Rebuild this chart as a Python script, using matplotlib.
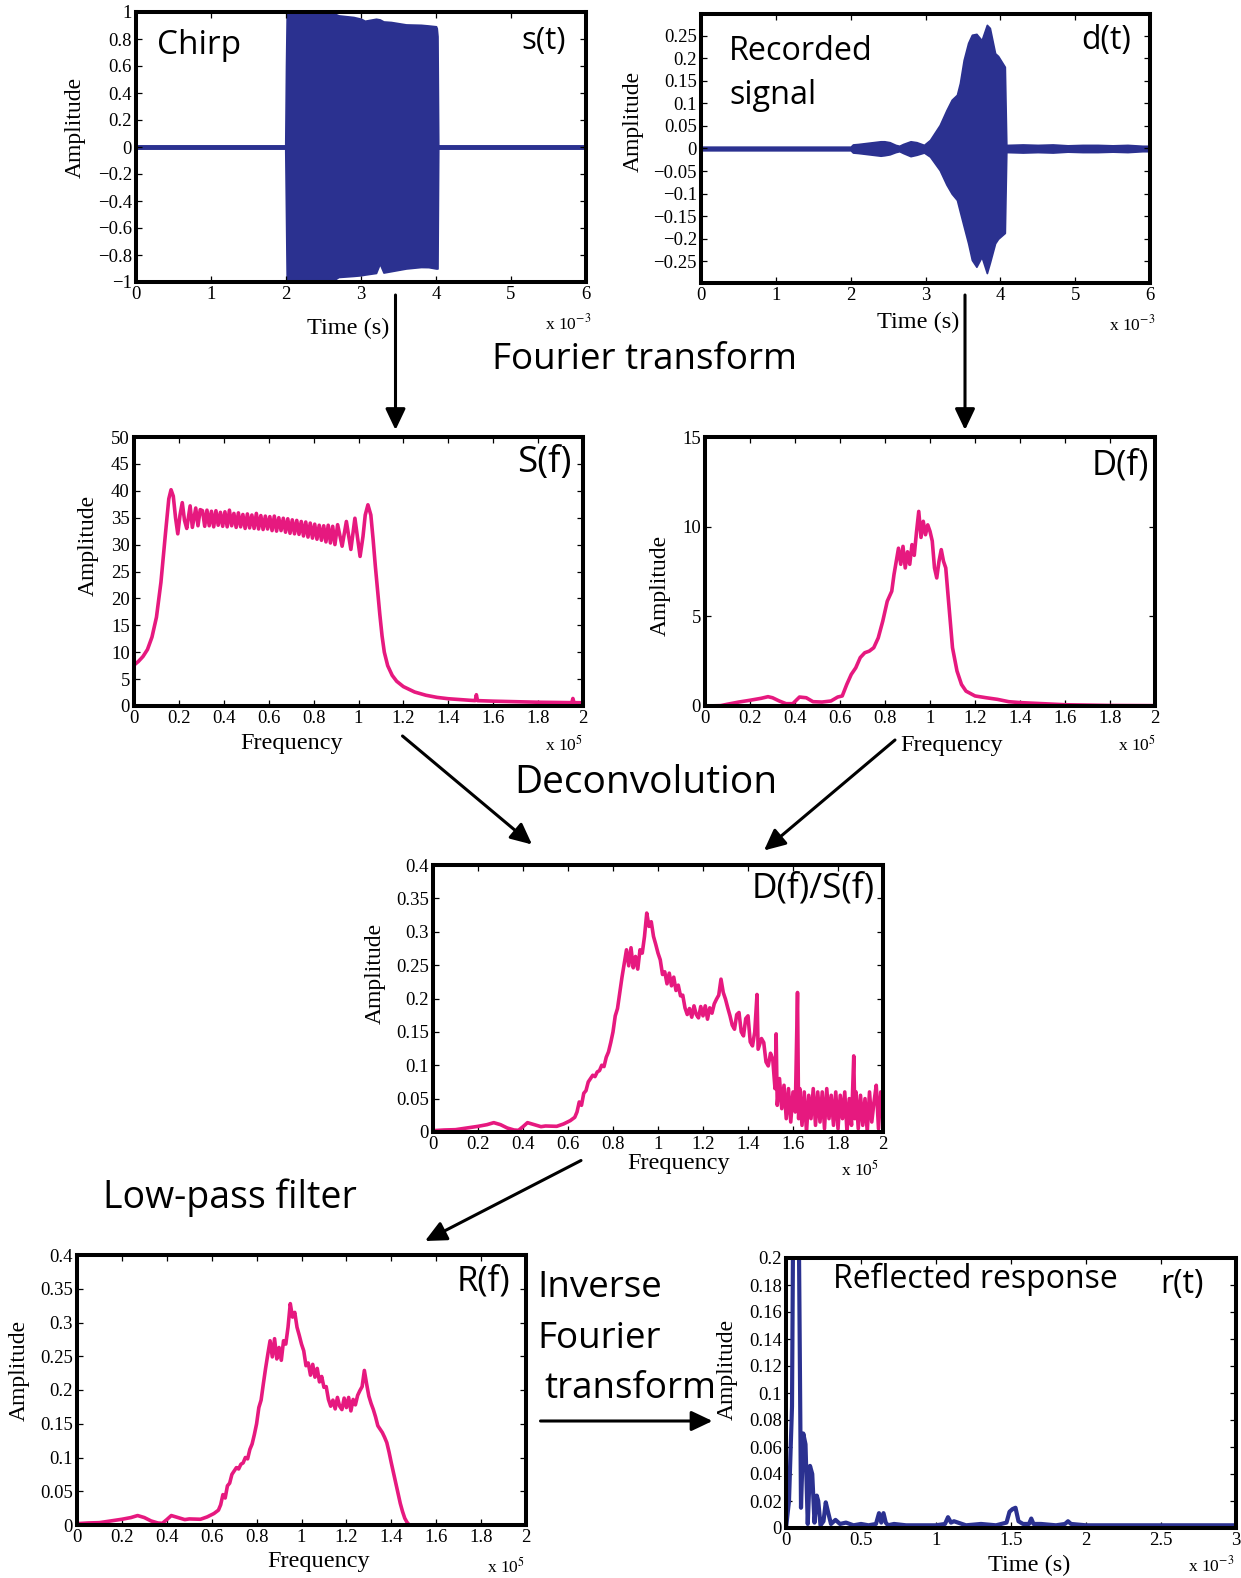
import numpy as np
import matplotlib
matplotlib.use('Agg')
import matplotlib.pyplot as plt
from matplotlib.patches import FancyArrowPatch
from matplotlib.ticker import FuncFormatter, MultipleLocator

W, H, DPI = 1241, 1578, 100

plt.rcParams['font.family'] = ['Liberation Serif', 'DejaVu Serif']
plt.rcParams['mathtext.fontset'] = 'stix'
plt.rcParams['axes.unicode_minus'] = True

NAVY = '#2b3190'
PINK = '#e6197f'
SANS = ['Open Sans', 'DejaVu Sans']

# ---------------- data ----------------
# chirp s(t): envelope of the transmitted sweep (time in ms)
st_time  = [0.0, 1.99, 2.0, 2.01, 2.6, 2.7, 2.9, 3.0, 3.05, 3.2, 3.25, 3.3, 3.4, 3.6, 3.8, 3.9, 4.0, 4.01, 4.02, 4.03, 6.0]
st_upper = [0.012, 0.012, 0.6, 1.0, 1.0, 0.975, 0.963, 0.95, 0.935, 0.95, 0.945, 0.93, 0.926, 0.908, 0.905, 0.9, 0.894, 0.88, 0.82, 0.012, 0.012]
st_lower = [-0.012, -0.012, -0.5, -1.0, -1.0, -0.963, -0.955, -0.95, -0.945, -0.933, -0.864, -0.93, -0.92, -0.9, -0.889, -0.89, -0.9, -0.9, -0.9, -0.012, -0.012]

# recorded d(t): envelope of the received signal (time in ms)
dt_time  = [0.0, 2.0, 2.03, 2.1, 2.2, 2.3, 2.4, 2.45, 2.52, 2.6,
            2.65, 2.7, 2.8, 2.88, 2.98, 3.06, 3.19, 3.28, 3.35, 3.42,
            3.46, 3.51, 3.57, 3.62, 3.68, 3.75, 3.82, 3.86, 3.93, 3.97,
            4.06, 4.08, 4.1, 4.3, 4.5, 4.7, 4.9, 5.1, 5.3, 5.5,
            5.7, 5.9, 6.0]
dt_upper = [0.004, 0.004, 0.009, 0.01, 0.012, 0.014, 0.016, 0.016, 0.014, 0.008,
            0.006, 0.01, 0.016, 0.014, 0.008, 0.019, 0.052, 0.085, 0.108, 0.119,
            0.145, 0.196, 0.234, 0.252, 0.254, 0.24, 0.274, 0.267, 0.211, 0.205,
            0.181, 0.008, 0.008, 0.009, 0.008, 0.009, 0.007, 0.008, 0.008, 0.007,
            0.008, 0.006, 0.006]
dt_lower = [-0.004, -0.004, -0.009, -0.01, -0.012, -0.014, -0.016, -0.015, -0.013, -0.008,
            -0.006, -0.01, -0.017, -0.014, -0.009, -0.018, -0.048, -0.08, -0.1, -0.114,
            -0.14, -0.172, -0.21, -0.247, -0.262, -0.24, -0.276, -0.253, -0.21, -0.2,
            -0.187, -0.008, -0.008, -0.009, -0.008, -0.009, -0.007, -0.008, -0.008, -0.007,
            -0.008, -0.006, -0.006]

# S(f): chirp spectrum (frequency in units of 1e5 Hz)
sf_head = [(0.00, 7.6), (0.02, 8.3), (0.04, 9.2), (0.06, 10.5), (0.08, 12.8), (0.10, 16.5), (0.12, 23.0),
           (0.14, 32.0), (0.155, 38.5), (0.165, 40.2), (0.175, 39.0), (0.185, 35.0), (0.195, 32.0),
           (0.205, 35.5), (0.215, 37.8), (0.225, 34.5), (0.235, 33.0), (0.25, 37.2), (0.26, 33.2),
           (0.275, 36.8), (0.285, 33.5), (0.295, 36.5)]
sf_band_freq = [0.305, 0.315, 0.325, 0.335, 0.345, 0.355, 0.365, 0.375, 0.385, 0.395,
                0.405, 0.415, 0.425, 0.435, 0.445, 0.455, 0.465, 0.475, 0.485, 0.495,
                0.505, 0.515, 0.525, 0.535, 0.545, 0.555, 0.565, 0.575, 0.585, 0.595,
                0.605, 0.615, 0.625, 0.635, 0.645, 0.655, 0.665, 0.675, 0.685, 0.695,
                0.705, 0.715, 0.725, 0.735, 0.745, 0.755, 0.765, 0.775, 0.785, 0.795,
                0.805, 0.815, 0.825, 0.835, 0.845, 0.855, 0.865, 0.875, 0.885, 0.895]
sf_band_amp = [36.3, 33.4, 36.4, 33.5, 36.2, 33.3, 36.3, 33.6, 36.0, 33.4,
               36.1, 33.3, 36.4, 33.5, 35.8, 33.2, 35.9, 33.3, 35.6, 33.0,
               35.7, 33.1, 35.5, 33.0, 35.8, 32.9, 35.4, 32.8, 35.3, 32.9,
               35.2, 32.6, 35.3, 32.5, 35.0, 32.6, 34.9, 32.3, 34.8, 32.1,
               34.6, 32.0, 34.5, 31.9, 34.3, 31.6, 34.2, 31.4, 34.0, 31.2,
               33.8, 31.0, 33.6, 30.8, 33.5, 30.5, 33.6, 30.3, 33.4, 30.0]
sf_tail = [(0.907, 33.7), (0.927, 29.7), (0.946, 34.3), (0.966, 29.1), (0.984, 34.9), (1.007, 27.8),
           (1.02, 31.5), (1.03, 35.5), (1.042, 37.4), (1.055, 35.5), (1.065, 31.0), (1.075, 26.0),
           (1.085, 21.5), (1.095, 17.0), (1.105, 13.0), (1.115, 10.0), (1.13, 7.5), (1.15, 5.7),
           (1.17, 4.6), (1.2, 3.6), (1.25, 2.6), (1.3, 2.0), (1.35, 1.6), (1.4, 1.35), (1.45, 1.2),
           (1.5, 1.05), (1.52, 1.0), (1.525, 2.1), (1.53, 1.0), (1.6, 0.9), (1.7, 0.8), (1.8, 0.7),
           (1.9, 0.65), (1.95, 0.62), (1.955, 1.4), (1.96, 0.62), (2.0, 0.6)]

# D(f): recorded-signal spectrum
df_freq = [0.0, 0.07, 0.10, 0.15, 0.20, 0.25, 0.28, 0.30, 0.33, 0.36, 0.39, 0.42, 0.45, 0.48, 0.52, 0.56,
           0.59, 0.61, 0.63, 0.65, 0.67, 0.69, 0.71, 0.73, 0.75, 0.77, 0.79, 0.81, 0.83, 0.84, 0.86, 0.87,
           0.88, 0.89, 0.90, 0.91, 0.92, 0.93, 0.94, 0.95, 0.96, 0.97, 0.98, 0.99, 1.00, 1.01, 1.02, 1.03,
           1.04, 1.05, 1.06, 1.07, 1.08, 1.09, 1.10, 1.12, 1.14, 1.16, 1.20, 1.25, 1.30, 1.35, 1.40, 1.50,
           1.60, 1.80, 2.00]
df_amp = [0.0, 0.02, 0.1, 0.22, 0.32, 0.43, 0.52, 0.46, 0.28, 0.13, 0.13, 0.5, 0.46, 0.24, 0.22, 0.28,
          0.5, 0.56, 1.2, 1.76, 2.13, 2.7, 2.97, 3.06, 3.25, 3.8, 4.73, 5.84, 6.4, 7.33, 8.8, 7.9,
          8.9, 7.7, 8.6, 7.9, 9.0, 8.4, 9.7, 10.85, 9.4, 10.3, 9.55, 10.1, 9.74, 9.2, 7.7, 7.14,
          8.07, 8.72, 8.07, 7.7, 6.2, 4.73, 3.25, 1.95, 1.2, 0.83, 0.56, 0.46, 0.37, 0.24, 0.19, 0.13,
          0.07, 0.03, 0.02]

# D(f)/S(f): deconvolved spectrum
ds_points = [(0.00, 0.002), (0.05, 0.003), (0.10, 0.0035), (0.15, 0.006), (0.20, 0.0085), (0.24, 0.011),
             (0.27, 0.014), (0.30, 0.011), (0.33, 0.006), (0.36, 0.003), (0.38, 0.0025), (0.40, 0.008),
             (0.42, 0.014), (0.45, 0.011), (0.48, 0.008), (0.50, 0.009), (0.55, 0.0085), (0.58, 0.012),
             (0.61, 0.017), (0.63, 0.022), (0.64, 0.030), (0.65, 0.045), (0.66, 0.040), (0.67, 0.058),
             (0.68, 0.062), (0.69, 0.075), (0.70, 0.080), (0.71, 0.085), (0.72, 0.083), (0.73, 0.090),
             (0.74, 0.092), (0.75, 0.100), (0.76, 0.098), (0.77, 0.112), (0.78, 0.120), (0.79, 0.134),
             (0.80, 0.150), (0.81, 0.174), (0.82, 0.185), (0.83, 0.209), (0.84, 0.232), (0.85, 0.253),
             (0.86, 0.273), (0.87, 0.249), (0.88, 0.276), (0.89, 0.246), (0.90, 0.263),
             (0.91, 0.244), (0.92, 0.273), (0.93, 0.268), (0.94, 0.293), (0.95, 0.328), (0.96, 0.308),
             (0.97, 0.315), (0.98, 0.293), (0.99, 0.281), (1.00, 0.268), (1.01, 0.258), (1.02, 0.236),
             (1.03, 0.240), (1.04, 0.222), (1.05, 0.238), (1.06, 0.219), (1.07, 0.232), (1.08, 0.212),
             (1.09, 0.220), (1.10, 0.204), (1.11, 0.205), (1.12, 0.186), (1.13, 0.176), (1.14, 0.185),
             (1.15, 0.172), (1.16, 0.189), (1.17, 0.176), (1.18, 0.171), (1.19, 0.188), (1.20, 0.174),
             (1.21, 0.189), (1.22, 0.169), (1.23, 0.186), (1.24, 0.178), (1.25, 0.192), (1.26, 0.199),
             (1.27, 0.205), (1.28, 0.229), (1.29, 0.209), (1.30, 0.199), (1.31, 0.186), (1.32, 0.174),
             (1.33, 0.160), (1.34, 0.154), (1.35, 0.176), (1.36, 0.179), (1.37, 0.150), (1.38, 0.144),
             (1.39, 0.170), (1.40, 0.174), (1.41, 0.135), (1.42, 0.129), (1.43, 0.150), (1.44, 0.206),
             (1.445, 0.124), (1.46, 0.140), (1.47, 0.134), (1.48, 0.105), (1.49, 0.099), (1.50, 0.118),
             (1.51, 0.109), (1.52, 0.065), (1.525, 0.147), (1.53, 0.040), (1.54, 0.080), (1.55, 0.035),
             (1.56, 0.07), (1.57, 0.02), (1.58, 0.065), (1.59, 0.015), (1.60, 0.06), (1.61, 0.03),
             (1.62, 0.209), (1.625, 0.02), (1.63, 0.065), (1.64, 0.01), (1.65, 0.06), (1.66, 0.0),
             (1.67, 0.055), (1.68, 0.02), (1.69, 0.065), (1.70, 0.01), (1.71, 0.06), (1.72, 0.015),
             (1.73, 0.06), (1.74, 0.005), (1.75, 0.065), (1.76, 0.02), (1.77, 0.055), (1.78, 0.01),
             (1.79, 0.06), (1.80, 0.005), (1.81, 0.055), (1.82, 0.02), (1.83, 0.06), (1.84, 0.0),
             (1.85, 0.05), (1.86, 0.01), (1.87, 0.114), (1.875, 0.02), (1.88, 0.06), (1.89, 0.005),
             (1.90, 0.055), (1.91, 0.01), (1.92, 0.05), (1.93, 0.0), (1.94, 0.06), (1.95, 0.015),
             (1.96, 0.045), (1.97, 0.07), (1.98, 0.005), (1.99, 0.06), (2.00, 0.03)]

# R(f): low-pass filtered spectrum, roll-off above the cutoff
rf_cutoff = 1.295
rf_tail = [(1.30, 0.191), (1.31, 0.18), (1.32, 0.171), (1.33, 0.16), (1.34, 0.147), (1.35, 0.142),
           (1.36, 0.137), (1.37, 0.13), (1.38, 0.122), (1.39, 0.108), (1.40, 0.092), (1.41, 0.077),
           (1.42, 0.062), (1.43, 0.047), (1.44, 0.032), (1.45, 0.02), (1.46, 0.01), (1.47, 0.004),
           (1.48, 0.0), (2.0, 0.0)]

# r(t): reflected response (time in ms)
rt_time = [0.0, 0.02, 0.04, 0.06, 0.08, 0.10, 0.115, 0.13, 0.145, 0.16, 0.175, 0.19, 0.205, 0.215, 0.23,
           0.25, 0.265, 0.28, 0.30, 0.33, 0.36, 0.40, 0.45, 0.50, 0.55, 0.60, 0.62, 0.635, 0.65, 0.665,
           0.68, 0.72, 0.8, 0.9, 1.0, 1.06, 1.08, 1.10, 1.12, 1.2, 1.3, 1.4, 1.47, 1.49, 1.51, 1.53,
           1.55, 1.58, 1.62, 1.635, 1.65, 1.7, 1.8, 1.86, 1.88, 1.9, 2.0, 2.2, 2.4, 2.6, 2.8, 3.0]
rt_amp = [0.0, 0.02, 0.09, 0.45, 0.30, 0.015, 0.07, 0.062, 0.003, 0.046, 0.04, 0.004, 0.024, 0.02, 0.002,
          0.005, 0.019, 0.012, 0.003, 0.006, 0.003, 0.004, 0.002, 0.003, 0.002, 0.003, 0.011, 0.004, 0.011, 0.004,
          0.002, 0.003, 0.002, 0.002, 0.002, 0.003, 0.008, 0.004, 0.005, 0.002, 0.003, 0.002, 0.004, 0.012, 0.014, 0.015,
          0.005, 0.003, 0.003, 0.007, 0.003, 0.003, 0.002, 0.003, 0.005, 0.003, 0.002, 0.002, 0.002, 0.002, 0.002, 0.002]

# ---------------- assemble series ----------------
sf_pts = sf_head + list(zip(sf_band_freq, sf_band_amp)) + sf_tail
sf_freq, sf_amp = map(np.array, zip(*sf_pts))
ds_freq, ds_amp = map(np.array, zip(*ds_points))
rf_pts = [p for p in ds_points if p[0] < rf_cutoff] + rf_tail
rf_freq, rf_amp = map(np.array, zip(*rf_pts))

# ---------------- figure ----------------
fig = plt.figure(figsize=(W / DPI, H / DPI), dpi=DPI)
fig.patch.set_facecolor('white')


def tick_fmt(v, _):
    if abs(v) < 1e-9:
        return '0'
    return ('%g' % round(v, 6)).replace('-', '\u2212')


def make_axes(box, xlim, ylim, xstep, ystep):
    L, R, T, B = box
    ax = fig.add_axes([L / W, 1 - B / H, (R - L) / W, (B - T) / H])
    for sp in ax.spines.values():
        sp.set_linewidth(2.9)
    ax.tick_params(direction='in', length=4, width=0.9, top=True, right=True,
                   labelsize=13.5, pad=3)
    ax.set_xlim(*xlim)
    ax.set_ylim(*ylim)
    ax.xaxis.set_major_locator(MultipleLocator(xstep))
    ax.yaxis.set_major_locator(MultipleLocator(ystep))
    ax.xaxis.set_major_formatter(FuncFormatter(tick_fmt))
    ax.yaxis.set_major_formatter(FuncFormatter(tick_fmt))
    return ax


def labels(ax, box, xl, xpos, yl, ypos, mult, mpos):
    L, R, T, B = box
    ax.set_xlabel(xl, fontsize=17.5)
    ax.xaxis.set_label_coords((xpos[0] - L) / (R - L), (B - xpos[1]) / (B - T))
    ax.xaxis.label.set_va('center')
    ax.set_ylabel(yl, fontsize=17)
    ax.yaxis.set_label_coords((ypos[0] - L) / (R - L), (B - ypos[1]) / (B - T))
    ax.yaxis.label.set_va('center')
    fig.text(mpos[0] / W, 1 - mpos[1] / H, mult, fontsize=12.5, ha='center', va='center')


def ftext(x, y, s, size, ha='left'):
    fig.text(x / W, 1 - y / H, s, fontsize=size, ha=ha, va='center', family=SANS)


def arrow(p0, p1):
    a = FancyArrowPatch((p0[0] / W, 1 - p0[1] / H), (p1[0] / W, 1 - p1[1] / H),
                        transform=fig.transFigure, arrowstyle='-|>,head_length=0.8,head_width=0.38',
                        mutation_scale=16, lw=2.2, color='black', shrinkA=0, shrinkB=0)
    fig.add_artist(a)


# s(t)
b1 = (136, 586, 12, 282)
ax1 = make_axes(b1, (0, 6), (-1, 1), 1, 0.2)
ax1.fill_between(st_time, st_lower, st_upper, color=NAVY, lw=1.2)
labels(ax1, b1, 'Time (s)', (348, 328), 'Amplitude', (75.5, 127), r'x 10$^{-3}$', (568, 323))
ftext(157, 46, 'Chirp', 24)
ftext(566, 41, 's(t)', 22.5, ha='right')

# d(t)
b2 = (701, 1150, 14, 283)
ax2 = make_axes(b2, (0, 6), (-0.298, 0.298), 1, 0.05)
ax2.fill_between(dt_time, dt_lower, dt_upper, color=NAVY, lw=1.2)
labels(ax2, b2, 'Time (s)', (918, 322), 'Amplitude', (633, 121), r'x 10$^{-3}$', (1132, 324))
ftext(729, 51, 'Recorded', 23.3)
ftext(729, 95, 'signal', 23.3)
ftext(1131, 41, 'd(t)', 23, ha='right')

# S(f)
b3 = (134, 583, 437, 706)
ax3 = make_axes(b3, (0, 2), (0, 50), 0.2, 5)
ax3.plot(sf_freq, sf_amp, color=PINK, lw=2.6)
labels(ax3, b3, 'Frequency', (292, 743), 'Amplitude', (88.5, 545), r'x 10$^{5}$', (564, 745))
ftext(571, 463, 'S(f)', 26.5, ha='right')

# D(f)
b4 = (705, 1155, 437, 706)
ax4 = make_axes(b4, (0, 2), (0, 15), 0.2, 5)
ax4.plot(df_freq, df_amp, color=PINK, lw=2.6)
labels(ax4, b4, 'Frequency', (952, 746), 'Amplitude', (660, 585), r'x 10$^{5}$', (1137, 745))
ftext(1149, 465, 'D(f)', 25, ha='right')

# D(f)/S(f)
b5 = (433, 883, 865, 1132)
ax5 = make_axes(b5, (0, 2), (0, 0.4), 0.2, 0.05)
ax5.plot(ds_freq, ds_amp, color=PINK, lw=2.6)
labels(ax5, b5, 'Frequency', (679, 1164), 'Amplitude', (375, 973), r'x 10$^{5}$', (860, 1170))
ftext(875, 889, 'D(f)/S(f)', 25.3, ha='right')

# R(f)
b6 = (77, 526, 1255, 1525)
ax6 = make_axes(b6, (0, 2), (0, 0.4), 0.2, 0.05)
ax6.plot(rf_freq, rf_amp, color=PINK, lw=2.6)
labels(ax6, b6, 'Frequency', (319, 1561), 'Amplitude', (19, 1370), r'x 10$^{5}$', (506, 1567))
ftext(510, 1281, 'R(f)', 25, ha='right')

# r(t)
b7 = (786, 1236, 1258, 1528)
ax7 = make_axes(b7, (0, 3), (0, 0.2), 0.5, 0.02)
ax7.plot(rt_time, rt_amp, color=NAVY, lw=3)
labels(ax7, b7, 'Time (s)', (1029, 1565), 'Amplitude', (727, 1369), r'x 10$^{-3}$', (1211, 1565))
ftext(833, 1279, 'Reflected response', 23)
ftext(1204, 1284, 'r(t)', 23, ha='right')

# processing steps
ftext(645, 360, 'Fourier transform', 26.5, ha='center')
ftext(646, 783, 'Deconvolution', 28, ha='center')
ftext(230, 1198, 'Low-pass filter', 27, ha='center')
ftext(537, 1288, 'Inverse', 26.5)
ftext(537, 1339, 'Fourier', 26.5)
ftext(544, 1389, 'transform', 26.5)

arrow((395.5, 295), (395.5, 430))
arrow((965, 295), (965, 430))
arrow((402.5, 736), (532, 844.5))
arrow((895, 740), (764, 850.5))
arrow((581, 1160.5), (425, 1241))
arrow((540.5, 1421), (712.5, 1421))

fig.savefig('out.png', dpi=DPI, facecolor='white')
